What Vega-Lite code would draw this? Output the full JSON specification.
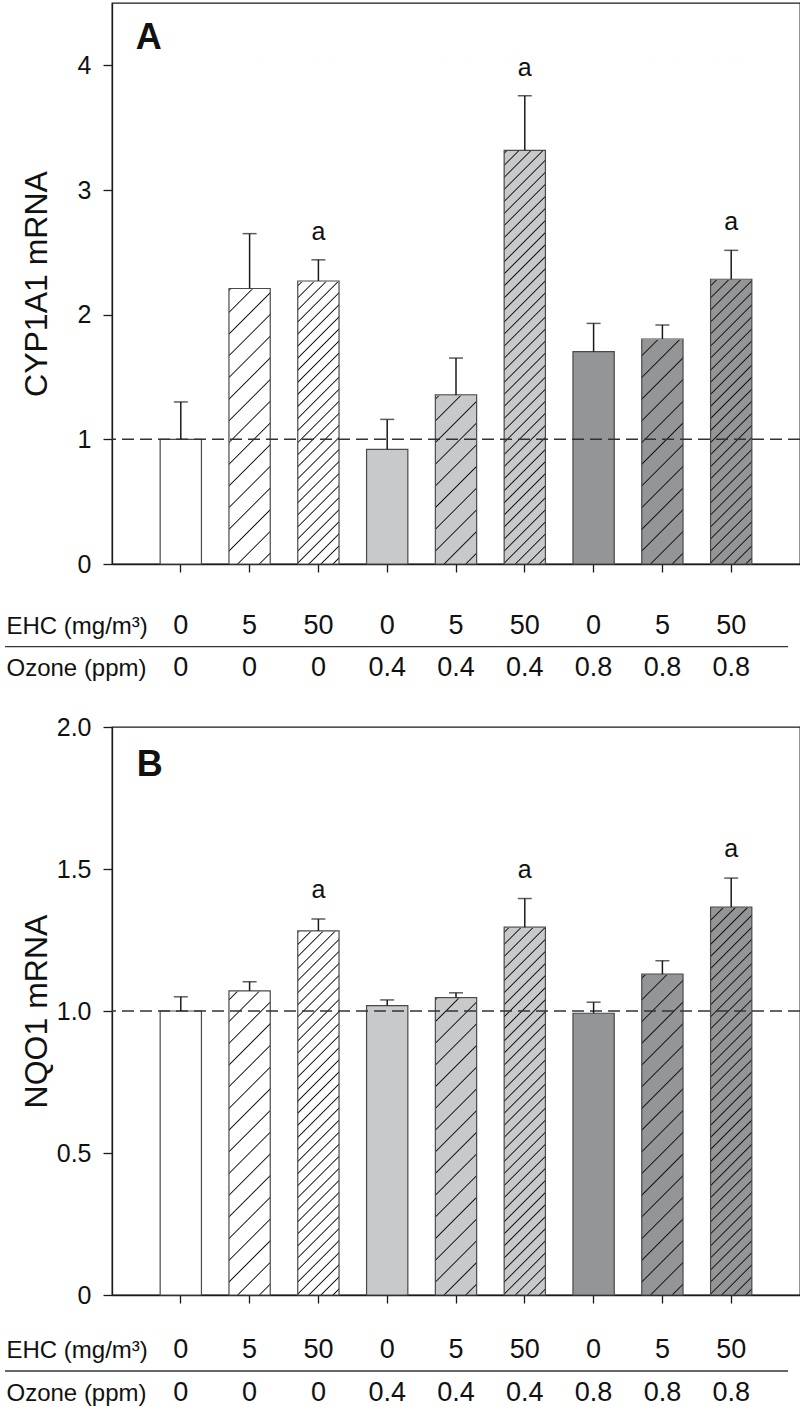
{
  "$schema": "https://vega.github.io/schema/vega-lite/v6.json",
  "padding": {"left": 3, "top": 2, "right": 0, "bottom": 0},
  "autosize": {"type": "pad"},
  "config": {
    "font": "Liberation Sans",
    "view": {"stroke": "#1a1a1a", "strokeWidth": 1.3},
    "axis": {"grid": false, "domainColor": "#1a1a1a", "domainWidth": 1.3, "tickColor": "#1a1a1a", "tickWidth": 1.3, "labelColor": "#111", "titleColor": "#111", "labelFont": "Liberation Sans", "titleFont": "Liberation Sans", "titleFontWeight": "normal"}
  },
  "datasets": {
    "cyp": [
      {"ehc": "0", "ozone": "0", "cond": "0|0", "mean": 1.0, "upper": 1.30, "sig": ""},
      {"ehc": "5", "ozone": "0", "cond": "5|0", "mean": 2.21, "upper": 2.65, "sig": ""},
      {"ehc": "50", "ozone": "0", "cond": "50|0", "mean": 2.27, "upper": 2.44, "sig": "a"},
      {"ehc": "0", "ozone": "0.4", "cond": "0|0.4", "mean": 0.92, "upper": 1.16, "sig": ""},
      {"ehc": "5", "ozone": "0.4", "cond": "5|0.4", "mean": 1.356, "upper": 1.652, "sig": ""},
      {"ehc": "50", "ozone": "0.4", "cond": "50|0.4", "mean": 3.318, "upper": 3.756, "sig": "a"},
      {"ehc": "0", "ozone": "0.8", "cond": "0|0.8", "mean": 1.703, "upper": 1.93, "sig": ""},
      {"ehc": "5", "ozone": "0.8", "cond": "5|0.8", "mean": 1.805, "upper": 1.917, "sig": ""},
      {"ehc": "50", "ozone": "0.8", "cond": "50|0.8", "mean": 2.284, "upper": 2.516, "sig": "a"}
    ],
    "nqo": [
      {"ehc": "0", "ozone": "0", "cond": "0|0", "mean": 1.0, "upper": 1.05, "sig": ""},
      {"ehc": "5", "ozone": "0", "cond": "5|0", "mean": 1.071, "upper": 1.103, "sig": ""},
      {"ehc": "50", "ozone": "0", "cond": "50|0", "mean": 1.282, "upper": 1.324, "sig": "a"},
      {"ehc": "0", "ozone": "0.4", "cond": "0|0.4", "mean": 1.019, "upper": 1.039, "sig": ""},
      {"ehc": "5", "ozone": "0.4", "cond": "5|0.4", "mean": 1.047, "upper": 1.064, "sig": ""},
      {"ehc": "50", "ozone": "0.4", "cond": "50|0.4", "mean": 1.295, "upper": 1.396, "sig": "a"},
      {"ehc": "0", "ozone": "0.8", "cond": "0|0.8", "mean": 0.992, "upper": 1.031, "sig": ""},
      {"ehc": "5", "ozone": "0.8", "cond": "5|0.8", "mean": 1.13, "upper": 1.177, "sig": ""},
      {"ehc": "50", "ozone": "0.8", "cond": "50|0.8", "mean": 1.366, "upper": 1.468, "sig": "a"}
    ]
  },
  "spacing": 33,
  "vconcat": [
    {
      "width": 688,
      "height": 561,
      "layer": [
        {
          "data": {"name": "cyp"},
          "layer": [
            {
              "mark": {"type": "bar", "strokeWidth": 0},
              "encoding": {
                "x": {"field": "cond", "type": "nominal", "sort": null,
                  "scale": {"domain": ["0|0","5|0","50|0","0|0.4","5|0.4","50|0.4","0|0.8","5|0.8","50|0.8"], "paddingInner": 0.4, "paddingOuter": 0.7},
                  "axis": {"title": ["EHC (mg/m³)", "Ozone (ppm)"], "titleFontSize": 24, "titleAlign": "left", "titleAngle": 0, "titleX": -106, "titleY": 50, "titleBaseline": "top", "titleLineHeight": 42,
                    "labelExpr": "split(datum.label, '|')", "labelFontSize": 27, "labelPadding": 40, "labelLineHeight": 42, "labelBaseline": "top", "labelAngle": 0, "labelOverlap": false, "labelBound": false, "labelFlush": false, "tickSize": 8}},
                "y": {"field": "mean", "type": "quantitative",
                  "scale": {"domain": [0, 4.5], "nice": false, "zero": true},
                  "axis": {"values": [0, 1, 2, 3, 4], "format": "d", "title": "CYP1A1 mRNA", "titleFontSize": 32, "titleX": -66, "titleY": 280.5, "titleBaseline": "alphabetic", "titleAngle": -90, "titleAlign": "center", "labelFontSize": 25, "labelPadding": 12, "tickSize": 9}},
                "fill": {"field": "ozone", "type": "nominal", "scale": {"domain": ["0", "0.4", "0.8"], "range": ["#ffffff", "#c8c9cb", "#949597"]}, "legend": null}
              }
            },
            {
              "transform": [{"filter": "datum.ehc == '5'"}],
              "mark": {"type": "bar", "strokeWidth": 0, "fill": {"gradient": "linear", "x1": 0, "y1": 0, "x2": 0.08855, "y2": 1.07507, "stops": [
                {"offset":0.0176,"color":"transparent"},{"offset":0.02,"color":"#111"},{"offset":0.0224,"color":"transparent"},
                {"offset":0.0576,"color":"transparent"},{"offset":0.06,"color":"#111"},{"offset":0.0624,"color":"transparent"},
                {"offset":0.0976,"color":"transparent"},{"offset":0.1,"color":"#111"},{"offset":0.1024,"color":"transparent"},
                {"offset":0.1376,"color":"transparent"},{"offset":0.14,"color":"#111"},{"offset":0.1424,"color":"transparent"},
                {"offset":0.1776,"color":"transparent"},{"offset":0.18,"color":"#111"},{"offset":0.1824,"color":"transparent"},
                {"offset":0.2176,"color":"transparent"},{"offset":0.22,"color":"#111"},{"offset":0.2224,"color":"transparent"},
                {"offset":0.2576,"color":"transparent"},{"offset":0.26,"color":"#111"},{"offset":0.2624,"color":"transparent"},
                {"offset":0.2976,"color":"transparent"},{"offset":0.3,"color":"#111"},{"offset":0.3024,"color":"transparent"},
                {"offset":0.3376,"color":"transparent"},{"offset":0.34,"color":"#111"},{"offset":0.3424,"color":"transparent"},
                {"offset":0.3776,"color":"transparent"},{"offset":0.38,"color":"#111"},{"offset":0.3824,"color":"transparent"},
                {"offset":0.4176,"color":"transparent"},{"offset":0.42,"color":"#111"},{"offset":0.4224,"color":"transparent"},
                {"offset":0.4576,"color":"transparent"},{"offset":0.46,"color":"#111"},{"offset":0.4624,"color":"transparent"},
                {"offset":0.4976,"color":"transparent"},{"offset":0.5,"color":"#111"},{"offset":0.5024,"color":"transparent"},
                {"offset":0.5376,"color":"transparent"},{"offset":0.54,"color":"#111"},{"offset":0.5424,"color":"transparent"},
                {"offset":0.5776,"color":"transparent"},{"offset":0.58,"color":"#111"},{"offset":0.5824,"color":"transparent"},
                {"offset":0.6176,"color":"transparent"},{"offset":0.62,"color":"#111"},{"offset":0.6224,"color":"transparent"},
                {"offset":0.6576,"color":"transparent"},{"offset":0.66,"color":"#111"},{"offset":0.6624,"color":"transparent"},
                {"offset":0.6976,"color":"transparent"},{"offset":0.7,"color":"#111"},{"offset":0.7024,"color":"transparent"},
                {"offset":0.7376,"color":"transparent"},{"offset":0.74,"color":"#111"},{"offset":0.7424,"color":"transparent"},
                {"offset":0.7776,"color":"transparent"},{"offset":0.78,"color":"#111"},{"offset":0.7824,"color":"transparent"},
                {"offset":0.8176,"color":"transparent"},{"offset":0.82,"color":"#111"},{"offset":0.8224,"color":"transparent"},
                {"offset":0.8576,"color":"transparent"},{"offset":0.86,"color":"#111"},{"offset":0.8624,"color":"transparent"},
                {"offset":0.8976,"color":"transparent"},{"offset":0.9,"color":"#111"},{"offset":0.9024,"color":"transparent"},
                {"offset":0.9376,"color":"transparent"},{"offset":0.94,"color":"#111"},{"offset":0.9424,"color":"transparent"},
                {"offset":0.9776,"color":"transparent"},{"offset":0.98,"color":"#111"},{"offset":0.9824,"color":"transparent"}
              ]}},
              "encoding": {
                "x": {"field": "cond", "type": "nominal", "sort": null},
                "y": {"datum": 4.02, "type": "quantitative"},
                "y2": {"datum": 0}
              }
            },
            {
              "transform": [{"filter": "datum.ehc == '50'"}],
              "mark": {"type": "bar", "strokeWidth": 0, "fill": {"gradient": "linear", "x1": 0, "y1": 0, "x2": 0.08855, "y2": 1.07507, "stops": [
                {"offset":0.00871,"color":"transparent"},{"offset":0.01111,"color":"#111"},{"offset":0.01351,"color":"transparent"},
                {"offset":0.03093,"color":"transparent"},{"offset":0.03333,"color":"#111"},{"offset":0.03573,"color":"transparent"},
                {"offset":0.05316,"color":"transparent"},{"offset":0.05556,"color":"#111"},{"offset":0.05796,"color":"transparent"},
                {"offset":0.07538,"color":"transparent"},{"offset":0.07778,"color":"#111"},{"offset":0.08018,"color":"transparent"},
                {"offset":0.0976,"color":"transparent"},{"offset":0.1,"color":"#111"},{"offset":0.1024,"color":"transparent"},
                {"offset":0.11982,"color":"transparent"},{"offset":0.12222,"color":"#111"},{"offset":0.12462,"color":"transparent"},
                {"offset":0.14204,"color":"transparent"},{"offset":0.14444,"color":"#111"},{"offset":0.14684,"color":"transparent"},
                {"offset":0.16427,"color":"transparent"},{"offset":0.16667,"color":"#111"},{"offset":0.16907,"color":"transparent"},
                {"offset":0.18649,"color":"transparent"},{"offset":0.18889,"color":"#111"},{"offset":0.19129,"color":"transparent"},
                {"offset":0.20871,"color":"transparent"},{"offset":0.21111,"color":"#111"},{"offset":0.21351,"color":"transparent"},
                {"offset":0.23093,"color":"transparent"},{"offset":0.23333,"color":"#111"},{"offset":0.23573,"color":"transparent"},
                {"offset":0.25316,"color":"transparent"},{"offset":0.25556,"color":"#111"},{"offset":0.25796,"color":"transparent"},
                {"offset":0.27538,"color":"transparent"},{"offset":0.27778,"color":"#111"},{"offset":0.28018,"color":"transparent"},
                {"offset":0.2976,"color":"transparent"},{"offset":0.3,"color":"#111"},{"offset":0.3024,"color":"transparent"},
                {"offset":0.31982,"color":"transparent"},{"offset":0.32222,"color":"#111"},{"offset":0.32462,"color":"transparent"},
                {"offset":0.34204,"color":"transparent"},{"offset":0.34444,"color":"#111"},{"offset":0.34684,"color":"transparent"},
                {"offset":0.36427,"color":"transparent"},{"offset":0.36667,"color":"#111"},{"offset":0.36907,"color":"transparent"},
                {"offset":0.38649,"color":"transparent"},{"offset":0.38889,"color":"#111"},{"offset":0.39129,"color":"transparent"},
                {"offset":0.40871,"color":"transparent"},{"offset":0.41111,"color":"#111"},{"offset":0.41351,"color":"transparent"},
                {"offset":0.43093,"color":"transparent"},{"offset":0.43333,"color":"#111"},{"offset":0.43573,"color":"transparent"},
                {"offset":0.45316,"color":"transparent"},{"offset":0.45556,"color":"#111"},{"offset":0.45796,"color":"transparent"},
                {"offset":0.47538,"color":"transparent"},{"offset":0.47778,"color":"#111"},{"offset":0.48018,"color":"transparent"},
                {"offset":0.4976,"color":"transparent"},{"offset":0.5,"color":"#111"},{"offset":0.5024,"color":"transparent"},
                {"offset":0.51982,"color":"transparent"},{"offset":0.52222,"color":"#111"},{"offset":0.52462,"color":"transparent"},
                {"offset":0.54204,"color":"transparent"},{"offset":0.54444,"color":"#111"},{"offset":0.54684,"color":"transparent"},
                {"offset":0.56427,"color":"transparent"},{"offset":0.56667,"color":"#111"},{"offset":0.56907,"color":"transparent"},
                {"offset":0.58649,"color":"transparent"},{"offset":0.58889,"color":"#111"},{"offset":0.59129,"color":"transparent"},
                {"offset":0.60871,"color":"transparent"},{"offset":0.61111,"color":"#111"},{"offset":0.61351,"color":"transparent"},
                {"offset":0.63093,"color":"transparent"},{"offset":0.63333,"color":"#111"},{"offset":0.63573,"color":"transparent"},
                {"offset":0.65316,"color":"transparent"},{"offset":0.65556,"color":"#111"},{"offset":0.65796,"color":"transparent"},
                {"offset":0.67538,"color":"transparent"},{"offset":0.67778,"color":"#111"},{"offset":0.68018,"color":"transparent"},
                {"offset":0.6976,"color":"transparent"},{"offset":0.7,"color":"#111"},{"offset":0.7024,"color":"transparent"},
                {"offset":0.71982,"color":"transparent"},{"offset":0.72222,"color":"#111"},{"offset":0.72462,"color":"transparent"},
                {"offset":0.74204,"color":"transparent"},{"offset":0.74444,"color":"#111"},{"offset":0.74684,"color":"transparent"},
                {"offset":0.76427,"color":"transparent"},{"offset":0.76667,"color":"#111"},{"offset":0.76907,"color":"transparent"},
                {"offset":0.78649,"color":"transparent"},{"offset":0.78889,"color":"#111"},{"offset":0.79129,"color":"transparent"},
                {"offset":0.80871,"color":"transparent"},{"offset":0.81111,"color":"#111"},{"offset":0.81351,"color":"transparent"},
                {"offset":0.83093,"color":"transparent"},{"offset":0.83333,"color":"#111"},{"offset":0.83573,"color":"transparent"},
                {"offset":0.85316,"color":"transparent"},{"offset":0.85556,"color":"#111"},{"offset":0.85796,"color":"transparent"},
                {"offset":0.87538,"color":"transparent"},{"offset":0.87778,"color":"#111"},{"offset":0.88018,"color":"transparent"},
                {"offset":0.8976,"color":"transparent"},{"offset":0.9,"color":"#111"},{"offset":0.9024,"color":"transparent"},
                {"offset":0.91982,"color":"transparent"},{"offset":0.92222,"color":"#111"},{"offset":0.92462,"color":"transparent"},
                {"offset":0.94204,"color":"transparent"},{"offset":0.94444,"color":"#111"},{"offset":0.94684,"color":"transparent"},
                {"offset":0.96427,"color":"transparent"},{"offset":0.96667,"color":"#111"},{"offset":0.96907,"color":"transparent"},
                {"offset":0.98649,"color":"transparent"},{"offset":0.98889,"color":"#111"},{"offset":0.99129,"color":"transparent"}
              ]}},
              "encoding": {
                "x": {"field": "cond", "type": "nominal", "sort": null},
                "y": {"datum": 4.02, "type": "quantitative"},
                "y2": {"datum": 0}
              }
            },
            {
              "transform": [{"filter": "datum.ehc != '0'"}],
              "mark": {"type": "bar", "fill": "#ffffff", "stroke": "#ffffff", "strokeWidth": 1.4},
              "encoding": {
                "x": {"field": "cond", "type": "nominal", "sort": null},
                "y": {"field": "mean", "type": "quantitative"},
                "y2": {"datum": 4.02}
              }
            },
            {
              "mark": {"type": "bar", "fill": "#ffffff", "fillOpacity": 0, "stroke": "#4a4a4a", "strokeWidth": 1.2},
              "encoding": {
                "x": {"field": "cond", "type": "nominal", "sort": null},
                "y": {"field": "mean", "type": "quantitative"}
              }
            },
            {
              "data": {"values": [{}]},
              "mark": {"type": "rule", "color": "#333333", "strokeWidth": 1.5, "strokeDash": [12, 6]},
              "encoding": {"y": {"datum": 1, "type": "quantitative"}}
            },
            {
              "mark": {"type": "rule", "color": "#1a1a1a", "strokeWidth": 1.5},
              "encoding": {
                "x": {"field": "cond", "type": "nominal", "sort": null},
                "y": {"field": "mean", "type": "quantitative"},
                "y2": {"field": "upper"}
              }
            },
            {
              "mark": {"type": "tick", "color": "#1a1a1a", "size": 14, "thickness": 1.5},
              "encoding": {
                "x": {"field": "cond", "type": "nominal", "sort": null},
                "y": {"field": "upper", "type": "quantitative"}
              }
            },
            {
              "transform": [{"filter": "datum.sig == 'a'"}],
              "mark": {"type": "text", "fontSize": 25, "baseline": "alphabetic", "dy": -20, "color": "#111"},
              "encoding": {
                "x": {"field": "cond", "type": "nominal", "sort": null},
                "y": {"field": "upper", "type": "quantitative"},
                "text": {"field": "sig"}
              }
            },
            {
              "data": {"values": [{"panel": "A"}]},
              "mark": {"type": "text", "fontSize": 36, "fontWeight": "bold", "align": "left", "baseline": "alphabetic", "dx": -45, "dy": 46, "color": "#111"},
              "encoding": {
                "x": {"datum": "0|0", "type": "nominal"},
                "y": {"datum": 4.5, "type": "quantitative"},
                "text": {"field": "panel"}
              }
            }
          ]
        },
        {
          "data": {"values": [{}]},
          "mark": {"type": "rule", "color": "#333333", "strokeWidth": 1.3},
          "encoding": {
            "x": {"datum": -1.555, "type": "quantitative", "scale": {"domain": [0, 10], "nice": false, "zero": false}, "axis": null},
            "x2": {"datum": 9.826},
            "y": {"datum": -0.663, "type": "quantitative"}
          }
        }
      ],
      "resolve": {"scale": {"x": "independent"}}
    },
    {
      "width": 688,
      "height": 568,
      "layer": [
        {
          "data": {"name": "nqo"},
          "layer": [
            {
              "mark": {"type": "bar", "strokeWidth": 0},
              "encoding": {
                "x": {"field": "cond", "type": "nominal", "sort": null,
                  "scale": {"domain": ["0|0","5|0","50|0","0|0.4","5|0.4","50|0.4","0|0.8","5|0.8","50|0.8"], "paddingInner": 0.4, "paddingOuter": 0.7},
                  "axis": {"title": ["EHC (mg/m³)", "Ozone (ppm)"], "titleFontSize": 24, "titleAlign": "left", "titleAngle": 0, "titleX": -106, "titleY": 43, "titleBaseline": "top", "titleLineHeight": 43,
                    "labelExpr": "split(datum.label, '|')", "labelFontSize": 27, "labelPadding": 33, "labelLineHeight": 43, "labelBaseline": "top", "labelAngle": 0, "labelOverlap": false, "labelBound": false, "labelFlush": false, "tickSize": 8}},
                "y": {"field": "mean", "type": "quantitative",
                  "scale": {"domain": [0, 2], "nice": false, "zero": true},
                  "axis": {"values": [0, 0.5, 1, 1.5, 2], "labelExpr": "datum.value == 0 ? '0' : format(datum.value, '.1f')", "title": "NQO1 mRNA", "titleFontSize": 32, "titleX": -66, "titleY": 284, "titleBaseline": "alphabetic", "titleAngle": -90, "titleAlign": "center", "labelFontSize": 25, "labelPadding": 12, "tickSize": 9}},
                "fill": {"field": "ozone", "type": "nominal", "scale": {"domain": ["0", "0.4", "0.8"], "range": ["#ffffff", "#c8c9cb", "#949597"]}, "legend": null}
              }
            },
            {
              "transform": [{"filter": "datum.ehc == '5'"}],
              "mark": {"type": "bar", "strokeWidth": 0, "fill": {"gradient": "linear", "x1": 0, "y1": 0, "x2": 0.08855, "y2": 1.07507, "stops": [
                {"offset":0.0176,"color":"transparent"},{"offset":0.02,"color":"#111"},{"offset":0.0224,"color":"transparent"},
                {"offset":0.0576,"color":"transparent"},{"offset":0.06,"color":"#111"},{"offset":0.0624,"color":"transparent"},
                {"offset":0.0976,"color":"transparent"},{"offset":0.1,"color":"#111"},{"offset":0.1024,"color":"transparent"},
                {"offset":0.1376,"color":"transparent"},{"offset":0.14,"color":"#111"},{"offset":0.1424,"color":"transparent"},
                {"offset":0.1776,"color":"transparent"},{"offset":0.18,"color":"#111"},{"offset":0.1824,"color":"transparent"},
                {"offset":0.2176,"color":"transparent"},{"offset":0.22,"color":"#111"},{"offset":0.2224,"color":"transparent"},
                {"offset":0.2576,"color":"transparent"},{"offset":0.26,"color":"#111"},{"offset":0.2624,"color":"transparent"},
                {"offset":0.2976,"color":"transparent"},{"offset":0.3,"color":"#111"},{"offset":0.3024,"color":"transparent"},
                {"offset":0.3376,"color":"transparent"},{"offset":0.34,"color":"#111"},{"offset":0.3424,"color":"transparent"},
                {"offset":0.3776,"color":"transparent"},{"offset":0.38,"color":"#111"},{"offset":0.3824,"color":"transparent"},
                {"offset":0.4176,"color":"transparent"},{"offset":0.42,"color":"#111"},{"offset":0.4224,"color":"transparent"},
                {"offset":0.4576,"color":"transparent"},{"offset":0.46,"color":"#111"},{"offset":0.4624,"color":"transparent"},
                {"offset":0.4976,"color":"transparent"},{"offset":0.5,"color":"#111"},{"offset":0.5024,"color":"transparent"},
                {"offset":0.5376,"color":"transparent"},{"offset":0.54,"color":"#111"},{"offset":0.5424,"color":"transparent"},
                {"offset":0.5776,"color":"transparent"},{"offset":0.58,"color":"#111"},{"offset":0.5824,"color":"transparent"},
                {"offset":0.6176,"color":"transparent"},{"offset":0.62,"color":"#111"},{"offset":0.6224,"color":"transparent"},
                {"offset":0.6576,"color":"transparent"},{"offset":0.66,"color":"#111"},{"offset":0.6624,"color":"transparent"},
                {"offset":0.6976,"color":"transparent"},{"offset":0.7,"color":"#111"},{"offset":0.7024,"color":"transparent"},
                {"offset":0.7376,"color":"transparent"},{"offset":0.74,"color":"#111"},{"offset":0.7424,"color":"transparent"},
                {"offset":0.7776,"color":"transparent"},{"offset":0.78,"color":"#111"},{"offset":0.7824,"color":"transparent"},
                {"offset":0.8176,"color":"transparent"},{"offset":0.82,"color":"#111"},{"offset":0.8224,"color":"transparent"},
                {"offset":0.8576,"color":"transparent"},{"offset":0.86,"color":"#111"},{"offset":0.8624,"color":"transparent"},
                {"offset":0.8976,"color":"transparent"},{"offset":0.9,"color":"#111"},{"offset":0.9024,"color":"transparent"},
                {"offset":0.9376,"color":"transparent"},{"offset":0.94,"color":"#111"},{"offset":0.9424,"color":"transparent"},
                {"offset":0.9776,"color":"transparent"},{"offset":0.98,"color":"#111"},{"offset":0.9824,"color":"transparent"}
              ]}},
              "encoding": {
                "x": {"field": "cond", "type": "nominal", "sort": null},
                "y": {"datum": 1.765, "type": "quantitative"},
                "y2": {"datum": 0}
              }
            },
            {
              "transform": [{"filter": "datum.ehc == '50'"}],
              "mark": {"type": "bar", "strokeWidth": 0, "fill": {"gradient": "linear", "x1": 0, "y1": 0, "x2": 0.08855, "y2": 1.07507, "stops": [
                {"offset":0.00871,"color":"transparent"},{"offset":0.01111,"color":"#111"},{"offset":0.01351,"color":"transparent"},
                {"offset":0.03093,"color":"transparent"},{"offset":0.03333,"color":"#111"},{"offset":0.03573,"color":"transparent"},
                {"offset":0.05316,"color":"transparent"},{"offset":0.05556,"color":"#111"},{"offset":0.05796,"color":"transparent"},
                {"offset":0.07538,"color":"transparent"},{"offset":0.07778,"color":"#111"},{"offset":0.08018,"color":"transparent"},
                {"offset":0.0976,"color":"transparent"},{"offset":0.1,"color":"#111"},{"offset":0.1024,"color":"transparent"},
                {"offset":0.11982,"color":"transparent"},{"offset":0.12222,"color":"#111"},{"offset":0.12462,"color":"transparent"},
                {"offset":0.14204,"color":"transparent"},{"offset":0.14444,"color":"#111"},{"offset":0.14684,"color":"transparent"},
                {"offset":0.16427,"color":"transparent"},{"offset":0.16667,"color":"#111"},{"offset":0.16907,"color":"transparent"},
                {"offset":0.18649,"color":"transparent"},{"offset":0.18889,"color":"#111"},{"offset":0.19129,"color":"transparent"},
                {"offset":0.20871,"color":"transparent"},{"offset":0.21111,"color":"#111"},{"offset":0.21351,"color":"transparent"},
                {"offset":0.23093,"color":"transparent"},{"offset":0.23333,"color":"#111"},{"offset":0.23573,"color":"transparent"},
                {"offset":0.25316,"color":"transparent"},{"offset":0.25556,"color":"#111"},{"offset":0.25796,"color":"transparent"},
                {"offset":0.27538,"color":"transparent"},{"offset":0.27778,"color":"#111"},{"offset":0.28018,"color":"transparent"},
                {"offset":0.2976,"color":"transparent"},{"offset":0.3,"color":"#111"},{"offset":0.3024,"color":"transparent"},
                {"offset":0.31982,"color":"transparent"},{"offset":0.32222,"color":"#111"},{"offset":0.32462,"color":"transparent"},
                {"offset":0.34204,"color":"transparent"},{"offset":0.34444,"color":"#111"},{"offset":0.34684,"color":"transparent"},
                {"offset":0.36427,"color":"transparent"},{"offset":0.36667,"color":"#111"},{"offset":0.36907,"color":"transparent"},
                {"offset":0.38649,"color":"transparent"},{"offset":0.38889,"color":"#111"},{"offset":0.39129,"color":"transparent"},
                {"offset":0.40871,"color":"transparent"},{"offset":0.41111,"color":"#111"},{"offset":0.41351,"color":"transparent"},
                {"offset":0.43093,"color":"transparent"},{"offset":0.43333,"color":"#111"},{"offset":0.43573,"color":"transparent"},
                {"offset":0.45316,"color":"transparent"},{"offset":0.45556,"color":"#111"},{"offset":0.45796,"color":"transparent"},
                {"offset":0.47538,"color":"transparent"},{"offset":0.47778,"color":"#111"},{"offset":0.48018,"color":"transparent"},
                {"offset":0.4976,"color":"transparent"},{"offset":0.5,"color":"#111"},{"offset":0.5024,"color":"transparent"},
                {"offset":0.51982,"color":"transparent"},{"offset":0.52222,"color":"#111"},{"offset":0.52462,"color":"transparent"},
                {"offset":0.54204,"color":"transparent"},{"offset":0.54444,"color":"#111"},{"offset":0.54684,"color":"transparent"},
                {"offset":0.56427,"color":"transparent"},{"offset":0.56667,"color":"#111"},{"offset":0.56907,"color":"transparent"},
                {"offset":0.58649,"color":"transparent"},{"offset":0.58889,"color":"#111"},{"offset":0.59129,"color":"transparent"},
                {"offset":0.60871,"color":"transparent"},{"offset":0.61111,"color":"#111"},{"offset":0.61351,"color":"transparent"},
                {"offset":0.63093,"color":"transparent"},{"offset":0.63333,"color":"#111"},{"offset":0.63573,"color":"transparent"},
                {"offset":0.65316,"color":"transparent"},{"offset":0.65556,"color":"#111"},{"offset":0.65796,"color":"transparent"},
                {"offset":0.67538,"color":"transparent"},{"offset":0.67778,"color":"#111"},{"offset":0.68018,"color":"transparent"},
                {"offset":0.6976,"color":"transparent"},{"offset":0.7,"color":"#111"},{"offset":0.7024,"color":"transparent"},
                {"offset":0.71982,"color":"transparent"},{"offset":0.72222,"color":"#111"},{"offset":0.72462,"color":"transparent"},
                {"offset":0.74204,"color":"transparent"},{"offset":0.74444,"color":"#111"},{"offset":0.74684,"color":"transparent"},
                {"offset":0.76427,"color":"transparent"},{"offset":0.76667,"color":"#111"},{"offset":0.76907,"color":"transparent"},
                {"offset":0.78649,"color":"transparent"},{"offset":0.78889,"color":"#111"},{"offset":0.79129,"color":"transparent"},
                {"offset":0.80871,"color":"transparent"},{"offset":0.81111,"color":"#111"},{"offset":0.81351,"color":"transparent"},
                {"offset":0.83093,"color":"transparent"},{"offset":0.83333,"color":"#111"},{"offset":0.83573,"color":"transparent"},
                {"offset":0.85316,"color":"transparent"},{"offset":0.85556,"color":"#111"},{"offset":0.85796,"color":"transparent"},
                {"offset":0.87538,"color":"transparent"},{"offset":0.87778,"color":"#111"},{"offset":0.88018,"color":"transparent"},
                {"offset":0.8976,"color":"transparent"},{"offset":0.9,"color":"#111"},{"offset":0.9024,"color":"transparent"},
                {"offset":0.91982,"color":"transparent"},{"offset":0.92222,"color":"#111"},{"offset":0.92462,"color":"transparent"},
                {"offset":0.94204,"color":"transparent"},{"offset":0.94444,"color":"#111"},{"offset":0.94684,"color":"transparent"},
                {"offset":0.96427,"color":"transparent"},{"offset":0.96667,"color":"#111"},{"offset":0.96907,"color":"transparent"},
                {"offset":0.98649,"color":"transparent"},{"offset":0.98889,"color":"#111"},{"offset":0.99129,"color":"transparent"}
              ]}},
              "encoding": {
                "x": {"field": "cond", "type": "nominal", "sort": null},
                "y": {"datum": 1.765, "type": "quantitative"},
                "y2": {"datum": 0}
              }
            },
            {
              "transform": [{"filter": "datum.ehc != '0'"}],
              "mark": {"type": "bar", "fill": "#ffffff", "stroke": "#ffffff", "strokeWidth": 1.4},
              "encoding": {
                "x": {"field": "cond", "type": "nominal", "sort": null},
                "y": {"field": "mean", "type": "quantitative"},
                "y2": {"datum": 1.765}
              }
            },
            {
              "mark": {"type": "bar", "fill": "#ffffff", "fillOpacity": 0, "stroke": "#4a4a4a", "strokeWidth": 1.2},
              "encoding": {
                "x": {"field": "cond", "type": "nominal", "sort": null},
                "y": {"field": "mean", "type": "quantitative"}
              }
            },
            {
              "data": {"values": [{}]},
              "mark": {"type": "rule", "color": "#333333", "strokeWidth": 1.5, "strokeDash": [12, 6]},
              "encoding": {"y": {"datum": 1, "type": "quantitative"}}
            },
            {
              "mark": {"type": "rule", "color": "#1a1a1a", "strokeWidth": 1.5},
              "encoding": {
                "x": {"field": "cond", "type": "nominal", "sort": null},
                "y": {"field": "mean", "type": "quantitative"},
                "y2": {"field": "upper"}
              }
            },
            {
              "mark": {"type": "tick", "color": "#1a1a1a", "size": 14, "thickness": 1.5},
              "encoding": {
                "x": {"field": "cond", "type": "nominal", "sort": null},
                "y": {"field": "upper", "type": "quantitative"}
              }
            },
            {
              "transform": [{"filter": "datum.sig == 'a'"}],
              "mark": {"type": "text", "fontSize": 25, "baseline": "alphabetic", "dy": -21, "color": "#111"},
              "encoding": {
                "x": {"field": "cond", "type": "nominal", "sort": null},
                "y": {"field": "upper", "type": "quantitative"},
                "text": {"field": "sig"}
              }
            },
            {
              "data": {"values": [{"panel": "B"}]},
              "mark": {"type": "text", "fontSize": 36, "fontWeight": "bold", "align": "left", "baseline": "alphabetic", "dx": -44, "dy": 49, "color": "#111"},
              "encoding": {
                "x": {"datum": "0|0", "type": "nominal"},
                "y": {"datum": 2, "type": "quantitative"},
                "text": {"field": "panel"}
              }
            }
          ]
        },
        {
          "data": {"values": [{}]},
          "mark": {"type": "rule", "color": "#333333", "strokeWidth": 1.3},
          "encoding": {
            "x": {"datum": -1.555, "type": "quantitative", "scale": {"domain": [0, 10], "nice": false, "zero": false}, "axis": null},
            "x2": {"datum": 9.826},
            "y": {"datum": -0.2676, "type": "quantitative"}
          }
        }
      ],
      "resolve": {"scale": {"x": "independent"}}
    }
  ]
}
